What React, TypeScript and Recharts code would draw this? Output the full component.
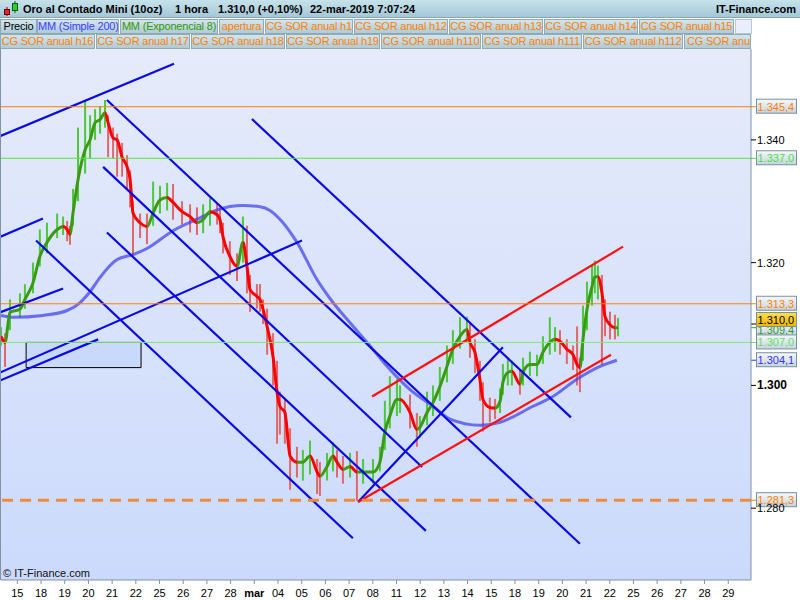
import React from "react";
import {
  ComposedChart,
  XAxis,
  YAxis,
  Line,
  Bar,
  ReferenceLine,
  ReferenceArea,
} from "recharts";

const FONT = '"Liberation Sans", Arial, Helvetica, sans-serif';

// trading days shown on the time axis (15-feb .. 29-mar)
const dayLabels = [
  "15", "18", "19", "20", "21", "22", "25", "26", "27", "28", "mar",
  "04", "05", "06", "07", "08", "11", "12", "13", "14", "15",
  "18", "19", "20", "21", "22", "25", "26", "27", "28", "29",
];
const dayTicks = dayLabels.map((_, i) => i);

// hourly samples: position in trading days, EMA(8), high, low
const hourPos = [
  -0.69, -0.52, -0.31, 0.11, 0.32, 0.66, 0.95, 1.25, 1.68, 1.93,
  2.1, 2.22, 2.35, 2.56, 2.86, 3.07, 3.28, 3.49, 3.7, 3.83,
  4.04, 4.21, 4.42, 4.63, 4.76, 4.88, 5.18, 5.47, 5.73, 6.02,
  6.32, 6.57, 6.95, 7.29, 7.58, 7.84, 8.13, 8.43, 8.55, 8.68,
  8.97, 9.27, 9.52, 9.69, 9.82, 10.11, 10.24, 10.37, 10.54, 10.79,
  10.96, 11.08, 11.29, 11.51, 11.8, 12.05, 12.35, 12.65, 12.77, 13.07,
  13.32, 13.49, 13.74, 14.04, 14.33, 14.59, 15.01, 15.3, 15.51, 15.72,
  16.02, 16.15, 16.57, 16.86, 16.99, 17.29, 17.54, 17.83, 18.13, 18.38,
  18.68, 18.97, 19.1, 19.31, 19.52, 19.65, 19.94, 20.16, 20.37, 20.49,
  20.7, 20.87, 21.21, 21.34, 21.63, 21.93, 22.18, 22.47, 22.69, 22.9,
  23.19, 23.45, 23.62, 23.74, 23.87, 24.04, 24.25, 24.37, 24.5, 24.67,
  24.8, 25.01, 25.22, 25.35,
];

const ema8 = [
  1308.0, 1307.0, 1311.9, 1312.4, 1314.0, 1316.7, 1321.0, 1323.3, 1325.4, 1325.9,
  1325.4, 1324.6, 1328.1, 1333.5, 1338.4, 1340.0, 1342.8, 1343.3, 1344.4, 1342.8,
  1340.3, 1340.0, 1337.2, 1335.6, 1333.5, 1328.1, 1326.5, 1325.9, 1328.1, 1330.2,
  1330.6, 1329.8, 1328.3, 1327.5, 1326.5, 1327.0, 1328.3, 1327.8, 1327.0, 1324.2,
  1321.0, 1319.4, 1323.3, 1319.4, 1315.6, 1314.5, 1314.0, 1312.4, 1309.6, 1304.7,
  1298.9, 1296.6, 1295.6, 1288.5, 1287.5, 1287.5, 1288.5, 1285.9, 1285.2, 1286.8,
  1288.5, 1287.5, 1286.3, 1286.8, 1285.9, 1285.9, 1285.9, 1287.5, 1292.4, 1295.0,
  1297.7, 1297.7, 1295.6, 1292.8, 1293.2, 1295.6, 1297.2, 1299.8, 1303.1, 1305.9,
  1308.0, 1309.1, 1307.0, 1305.4, 1301.0, 1297.7, 1296.4, 1296.3, 1297.4, 1300.5,
  1302.1, 1302.3, 1300.2, 1302.1, 1303.4, 1303.4, 1305.4, 1307.0, 1307.5, 1307.2,
  1305.9, 1305.0, 1303.4, 1302.9, 1307.5, 1312.4, 1316.1, 1317.7, 1317.7, 1315.1,
  1311.2, 1309.9, 1309.4, 1309.4,
];

const highs = [
  1309.5, 1308.5, 1314.0, 1315.0, 1316.5, 1320.0, 1325.4, 1326.5, 1328.0, 1327.5,
  1326.8, 1326.0, 1332.0, 1342.0, 1346.5, 1344.0, 1345.0, 1345.5, 1346.5, 1344.0,
  1342.0, 1341.0, 1339.5, 1337.5, 1335.0, 1330.0, 1328.0, 1328.0, 1333.2, 1332.5,
  1333.0, 1332.8, 1330.0, 1329.5, 1329.0, 1329.5, 1330.5, 1329.6, 1329.0, 1326.5,
  1323.5, 1321.5, 1327.5, 1326.0, 1318.0, 1316.5, 1316.5, 1314.0, 1312.5, 1308.5,
  1304.0, 1299.0, 1298.0, 1293.0, 1290.0, 1289.5, 1291.0, 1288.0, 1287.5, 1289.0,
  1290.7, 1289.5, 1288.5, 1289.0, 1289.3, 1288.0, 1288.0, 1290.0, 1297.5, 1301.5,
  1301.0, 1300.0, 1298.5, 1295.5, 1295.0, 1299.0, 1300.0, 1303.0, 1306.5, 1309.0,
  1311.1, 1311.2, 1310.0, 1307.5, 1304.0, 1300.5, 1298.0, 1297.8, 1299.5, 1303.5,
  1304.5, 1304.0, 1302.5, 1304.5, 1305.5, 1305.0, 1308.0, 1311.1, 1309.5, 1309.0,
  1307.5, 1306.5, 1309.6, 1304.5, 1313.0, 1316.9, 1319.5, 1320.3, 1319.5, 1318.0,
  1314.0, 1312.0, 1311.5, 1311.0,
];

const lows = [
  1306.5, 1303.0, 1309.0, 1311.0, 1312.5, 1315.0, 1319.4, 1321.5, 1324.0, 1324.5,
  1323.5, 1322.9, 1326.0, 1330.0, 1334.5, 1337.0, 1340.0, 1341.0, 1342.0, 1337.2,
  1337.0, 1334.0, 1334.0, 1332.0, 1329.0, 1321.3, 1324.0, 1323.0, 1326.0, 1328.0,
  1328.5, 1327.0, 1326.2, 1324.9, 1324.5, 1324.8, 1326.0, 1326.2, 1324.8, 1321.5,
  1318.0, 1317.0, 1320.0, 1315.0, 1312.0, 1312.5, 1312.0, 1310.0, 1305.0, 1300.0,
  1290.5, 1292.0, 1290.5, 1283.0, 1285.0, 1284.5, 1285.5, 1282.3, 1282.0, 1284.5,
  1286.0, 1285.0, 1284.0, 1285.0, 1281.2, 1284.0, 1284.0, 1286.0, 1289.5, 1293.0,
  1295.0, 1295.5, 1293.0, 1290.0, 1291.5, 1293.5, 1295.0, 1297.5, 1300.5, 1303.5,
  1306.0, 1307.0, 1304.5, 1302.0, 1297.5, 1292.5, 1294.0, 1294.5, 1295.5, 1298.5,
  1300.0, 1300.0, 1298.5, 1300.0, 1301.5, 1301.5, 1303.5, 1305.0, 1305.5, 1305.0,
  1303.5, 1302.5, 1300.0, 1298.9, 1304.0, 1309.0, 1313.0, 1315.0, 1314.0, 1303.4,
  1308.0, 1307.5, 1307.5, 1308.0,
];

// simple moving average 200
const smaPos = [
  -0.69, -0.18, 1.08, 2.1, 2.65, 3.07, 3.49, 4.21, 4.88, 5.47, 6.57,
  7.71, 8.43, 9.52, 10.24, 10.66, 11.21, 11.8, 12.65, 13.32, 14.04, 14.76,
  15.6, 16.57, 17.54, 18.26, 19.52, 20.37, 21.76, 22.6, 23.61, 24.59, 25.3,
];
const sma200 = [
  1311.4, 1311.1, 1311.4, 1312.2, 1313.5, 1315.3, 1317.6, 1320.5, 1321.3, 1322.3, 1325.2,
  1327.3, 1328.6, 1329.3, 1329.1, 1328.5, 1326.5, 1323.3, 1317.2, 1313.5, 1310.2, 1307.0,
  1303.1, 1299.3, 1296.6, 1294.5, 1293.5, 1294.0, 1296.6, 1298.2, 1301.0, 1303.1, 1304.1,
];

const lastPrice = 1310.0;
const orangeLevels = [1345.4, 1313.3];
const greenLevels = [1337.0, 1307.0];
const openLevel = 1281.3;

// drawn trend lines: [day1, price1, day2, price2]
const blueTrends = [
  [-0.73, 1340.6, 6.61, 1352.4],
  [-0.73, 1324.2, 1.08, 1327.2],
  [-0.73, 1311.9, 1.93, 1315.8],
  [-0.73, 1302.1, 12.01, 1323.6],
  [-0.73, 1300.8, 3.41, 1307.5],
  [0.79, 1323.6, 14.16, 1275.1],
  [3.78, 1324.9, 17.24, 1276.3],
  [3.62, 1335.6, 17.08, 1286.7],
  [3.78, 1346.5, 23.74, 1274.2],
  [9.9, 1343.4, 23.36, 1294.8],
  [14.38, 1281.0, 20.49, 1306.2],
];
const redTrends = [
  [14.38, 1281.0, 25.05, 1305.0],
  [14.97, 1298.2, 25.56, 1322.6],
];
const zoneBox = [0.37, 5.22, 1302.9, 1307.0];

const titleParts = ["Oro al Contado Mini (10oz)", "1 hora", "1.310,0 (+0,10%)", "22-mar-2019 7:07:24"];
const siteName = "IT-Finance.com";
const legendTop = [
  "Precio", "MM (Simple 200)", "MM (Exponencial 8)", "apertura", "CG SOR anual h1",
  "CG SOR anual h12", "CG SOR anual h13", "CG SOR anual h14", "CG SOR anual h15",
];
const legendBottom = [
  "CG SOR anual h16", "CG SOR anual h17", "CG SOR anual h18", "CG SOR anual h19",
  "CG SOR anual h110", "CG SOR anual h111", "CG SOR anual h112", "CG SOR anual h113",
];

const UP = "#3a9a12";
const DOWN = "#ff0000";
const ORANGE = "#ff8000";

function esNum(v: number, dec: number) {
  const [i, d] = v.toFixed(dec).split(".");
  const int = i.replace(/\B(?=(\d{3})+(?!\d))/g, ".");
  return d ? int + "," + d : int;
}

function DayTick({ x, y, payload }: any) {
  const label = dayLabels[payload.value];
  return (
    <text x={x} y={y + 11} textAnchor="middle" fontSize={11} fontFamily={FONT}
      fontWeight={label === "mar" ? "bold" : "normal"} fill="#000">
      {label}
    </text>
  );
}

function PriceTick({ x, y, payload }: any) {
  const bold = payload.value === 1300;
  return (
    <text x={x} y={y + 4} textAnchor="start" fontSize={bold ? 12 : 11} fontFamily={FONT}
      fontWeight={bold ? "bold" : "normal"} fill="#000">
      {esNum(payload.value, 0)}
    </text>
  );
}

function PriceTag({ viewBox, value, color, gold, shift = 0 }: any) {
  if (!viewBox) return null;
  const x = viewBox.x + viewBox.width;
  const y = viewBox.y + shift;
  return (
    <g>
      <line x1={x} x2={x + 5} y1={viewBox.y} y2={viewBox.y} stroke={gold ? "#000" : color} />
      <rect x={x + 5.5} y={y - 7.5} width={40} height={14}
        fill={gold ? "url(#goldTag)" : "url(#plainTag)"} stroke="#7890a2" />
      <text x={x + 6.5} y={y + 4} fontSize={11} fontFamily={FONT} fill={gold ? "#000" : color}>
        {esNum(value, 1)}
      </text>
    </g>
  );
}

function LegendBox({ left, top, width, color, text, alignLeft }: any) {
  return (
    <div
      style={{
        position: "absolute", left, top, width, height: 15, boxSizing: "border-box",
        border: "1px solid #8fa9b7", background: "linear-gradient(#d3e5ed, #aecbd8)",
        color, fontSize: 11, lineHeight: "13px", whiteSpace: "nowrap", overflow: "hidden",
        textAlign: alignLeft ? "left" : "center", paddingLeft: alignLeft ? 2 : 0,
        letterSpacing: -0.2,
      }}
    >
      {text}
    </div>
  );
}

function Header() {
  const titleX = [23, 175, 218, 310];
  const topBoxes = [[0, 37], [37, 82], [120, 98], [219, 45], [265, 88], [354, 94], [449, 94], [544, 94], [639, 95]];
  const topColors = ["#000", "#3c3cff", "#339900", ORANGE, ORANGE, ORANGE, ORANGE, ORANGE, ORANGE];
  const bottomBoxes = [[0, 95], [96, 94], [191, 94], [286, 94], [381, 100], [482, 100], [583, 100], [684, 67]];
  return (
    <>
      <div style={{ position: "absolute", left: 0, top: 0, width: 800, height: 18, boxSizing: "border-box",
        background: "linear-gradient(#c6e2eb, #a5c8d6)", borderBottom: "1px solid #8aa6b4" }}>
        <svg width={18} height={17} style={{ position: "absolute", left: 2, top: 0 }}>
          <line x1={5} x2={5} y1={7} y2={16} stroke="#800" />
          <rect x={2.5} y={9.5} width={5} height={5} fill="#e23" stroke="#600" />
          <line x1={13} x2={13} y1={1} y2={13} stroke="#060" />
          <rect x={10.5} y={3.5} width={5} height={7} fill="#3c3" stroke="#060" />
        </svg>
        {titleParts.map((p, i) => (
          <span key={i} style={{ position: "absolute", left: titleX[i], top: 2, fontSize: 11,
            fontWeight: "bold", lineHeight: "14px", whiteSpace: "nowrap" }}>{p}</span>
        ))}
        <span style={{ position: "absolute", right: 4, top: 2, fontSize: 11, fontWeight: "bold",
          lineHeight: "14px" }}>{siteName}</span>
      </div>
      {legendTop.map((t, i) => (
        <LegendBox key={t} left={topBoxes[i][0]} top={19} width={topBoxes[i][1]} color={topColors[i]} text={t} />
      ))}
      <div style={{ position: "absolute", left: 735, top: 19, width: 17, height: 15, boxSizing: "border-box",
        border: "1px solid #b8c8d4", background: "#e8eefc" }} />
      {legendBottom.map((t, i) => (
        <LegendBox key={t} left={bottomBoxes[i][0]} top={34} width={bottomBoxes[i][1]} color={ORANGE}
          text={t} alignLeft={i === legendBottom.length - 1} />
      ))}
    </>
  );
}

export default function App() {
  const rows = hourPos.map((t, i) => ({ t, ema: ema8[i], hi: highs[i], lo: lows[i] }));
  const smaRows = smaPos.map((t, i) => ({ t, sma: sma200[i] }));

  // colour the EMA green while it rises and red while it falls
  const t0 = hourPos[0];
  const span = hourPos[hourPos.length - 1] - t0;
  const stops: { off: number; c: string }[] = [];
  for (let i = 0; i < ema8.length - 1; i++) {
    const c = ema8[i + 1] >= ema8[i] ? UP : DOWN;
    stops.push({ off: (hourPos[i] - t0) / span, c }, { off: (hourPos[i + 1] - t0) / span, c });
  }

  const candle = (p: any) => {
    const i = p.index;
    const falling = i > 0 && ema8[i] < ema8[i - 1];
    const cx = p.x + p.width / 2;
    const h = Math.max(Math.abs(p.height), 1);
    const top = p.height < 0 ? p.y + p.height : p.y;
    return <rect x={cx - 1} y={top} width={2} height={h} fill={falling ? "#e06868" : "#4cc93a"} />;
  };

  return (
    <div style={{ position: "relative", width: 800, height: 600, background: "#fff", overflow: "hidden", fontFamily: FONT }}>
      <style>{"body{margin:0}"}</style>
      <div style={{ position: "absolute", left: 0, top: 49, width: 751, height: 531, boxSizing: "border-box",
        borderLeft: "1px solid #8293a3", background: "linear-gradient(#e6ebfa, #cbdafc)" }} />
      <div style={{ position: "absolute", left: 0, top: 0 }}>
        <ComposedChart width={800} height={600} data={rows} margin={{ top: 49, right: 0, bottom: 0, left: 1 }}>
          <defs>
            <linearGradient id="emaGrad" x1="0" y1="0" x2="1" y2="0">
              {stops.map((s, i) => (
                <stop key={i} offset={s.off} stopColor={s.c} />
              ))}
            </linearGradient>
            <linearGradient id="plainTag" x1="0" y1="0" x2="0" y2="1">
              <stop offset="0" stopColor="#f6f9fb" />
              <stop offset="1" stopColor="#c6d3de" />
            </linearGradient>
            <linearGradient id="goldTag" x1="0" y1="0" x2="0" y2="1">
              <stop offset="0" stopColor="#ffe14a" />
              <stop offset="1" stopColor="#f2b400" />
            </linearGradient>
          </defs>
          <XAxis type="number" dataKey="t" domain={[-0.69, 30.96]} allowDataOverflow ticks={dayTicks}
            interval={0} height={20} tickSize={4} tickMargin={2} tick={<DayTick />}
            axisLine={{ stroke: "#8293a3" }} tickLine={{ stroke: "#8293a3" }} />
          <YAxis orientation="right" width={49} domain={[1268.3, 1354.8]} allowDataOverflow
            ticks={[1280, 1300, 1320, 1340]} interval={0} tickSize={5} tickMargin={1}
            tick={<PriceTick />} axisLine={{ stroke: "#8293a3" }} tickLine={{ stroke: "#000" }} />

          <ReferenceArea x1={zoneBox[0]} x2={zoneBox[1]} y1={zoneBox[2]} y2={zoneBox[3]}
            fill="#c9d9fc" fillOpacity={1} stroke="#000" strokeWidth={1} />

          <Bar dataKey={(d: any) => [d.lo, d.hi]} barSize={2} shape={candle} isAnimationActive={false} />
          <Line data={smaRows} type="monotone" dataKey="sma" stroke="#4646ee" strokeOpacity={0.75}
            strokeWidth={3} dot={false} activeDot={false} isAnimationActive={false} />
          <Line type="monotone" dataKey="ema" stroke="url(#emaGrad)" strokeWidth={3}
            dot={false} activeDot={false} isAnimationActive={false} />

          {blueTrends.map((s, i) => (
            <ReferenceLine key={"b" + i} segment={[{ x: s[0], y: s[1] }, { x: s[2], y: s[3] }]}
              stroke="#0a0ae6" strokeWidth={2.2} ifOverflow="hidden" />
          ))}
          {redTrends.map((s, i) => (
            <ReferenceLine key={"r" + i} segment={[{ x: s[0], y: s[1] }, { x: s[2], y: s[3] }]}
              stroke="#ff1010" strokeWidth={2.2} ifOverflow="hidden" />
          ))}

          <ReferenceLine y={orangeLevels[0]} stroke={ORANGE} strokeWidth={1}
            label={<PriceTag value={orangeLevels[0]} color={ORANGE} />} />
          <ReferenceLine y={greenLevels[0]} stroke="#4fe83a" strokeWidth={1}
            label={<PriceTag value={greenLevels[0]} color="#46e046" />} />
          <ReferenceLine y={orangeLevels[1]} stroke={ORANGE} strokeWidth={1}
            label={<PriceTag value={orangeLevels[1]} color={ORANGE} />} />
          <ReferenceLine y={ema8[ema8.length - 1]} stroke="none"
            label={<PriceTag value={ema8[ema8.length - 1]} color="#2f9a2f" shift={2} />} />
          <ReferenceLine y={lastPrice} stroke="none"
            label={<PriceTag value={lastPrice} color="#000" gold shift={-4} />} />
          <ReferenceLine y={greenLevels[1]} stroke="#7de870" strokeWidth={1}
            label={<PriceTag value={greenLevels[1]} color="#5ee05e" />} />
          <ReferenceLine y={sma200[sma200.length - 1]} stroke="none"
            label={<PriceTag value={sma200[sma200.length - 1]} color="#3535f0" />} />
          <ReferenceLine y={openLevel} stroke="#f08a3c" strokeWidth={3} strokeDasharray="11 7"
            label={<PriceTag value={openLevel} color={ORANGE} />} />
        </ComposedChart>
      </div>
      <Header />
      <div style={{ position: "absolute", left: 3, top: 566, fontSize: 11, lineHeight: "14px", color: "#111" }}>
        © IT-Finance.com
      </div>
    </div>
  );
}
